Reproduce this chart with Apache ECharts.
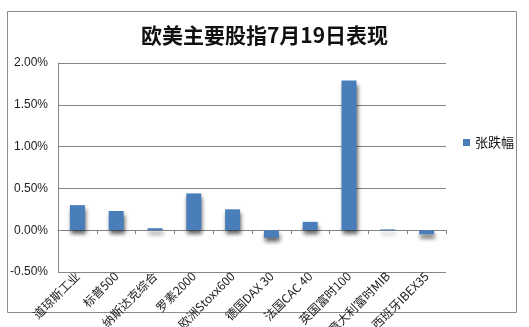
<!DOCTYPE html>
<html><head><meta charset="utf-8">
<script src="https://cdn.jsdelivr.net/npm/echarts@6/dist/echarts.min.js"></script>
<style>html,body{margin:0;padding:0;background:#fff}#c{width:529px;height:327px}</style>
</head><body><div id="c"></div>
<script>
var categories = ['道琼斯工业','标普500','纳斯达克综合','罗素2000','欧洲Stoxx600','德国DAX 30','法国CAC 40','英国富时100','意大利富时MIB','西班牙IBEX35'];
var values = [0.30, 0.23, 0.024, 0.44, 0.25, -0.09, 0.10, 1.79, 0.01, -0.05];
var seriesName = '张跌幅';
var titleText = '欧美主要股指7月19日表现';
var font = '"Noto Sans CJK SC", sans-serif';
var chart = echarts.init(document.getElementById('c'), null, {renderer:'canvas'});
chart.setOption({
  animation:false,
  backgroundColor:'#fff',
  graphic:[{type:'rect',shape:{x:7.5,y:11.5,width:509,height:301},style:{fill:'none',stroke:'#8c8c8c',lineWidth:1},z:-1}],
  title:{text:titleText,left:'center',top:20,textStyle:{fontFamily:font,fontSize:21,fontWeight:'bold',color:'#111'}},
  legend:{data:[seriesName],left:458,top:131,icon:'rect',itemWidth:7,itemHeight:7,itemGap:4,
    textStyle:{fontFamily:font,fontSize:13,color:'#111'}},
  grid:{left:58,right:83,top:63,bottom:55,outerBoundsMode:'none',containLabel:false},
  xAxis:{type:'category',data:categories,
    axisLine:{onZero:true,lineStyle:{color:'#868686'}},
    axisTick:{show:true,length:4,inside:false,lineStyle:{color:'#868686'}},
    axisLabel:{rotate:45,interval:0,margin:2,fontFamily:font,fontSize:12,color:'#222'}},
  yAxis:{type:'value',min:-0.5,max:2,interval:0.5,
    axisLine:{show:true,lineStyle:{color:'#868686'}},
    axisTick:{show:false},
    splitLine:{lineStyle:{color:'#868686'}},
    axisLabel:{formatter:function(v){return v.toFixed(2)+'%';},fontFamily:'"Liberation Sans", Arial, sans-serif',fontSize:12,color:'#222',margin:10}},
  series:[{name:seriesName,type:'bar',data:values,barWidth:15,
    itemStyle:{color:'#4a7ebb',shadowColor:'rgba(0,0,0,0.6)',shadowBlur:4,shadowOffsetY:4,shadowOffsetX:1}}]
});
</script></body></html>
